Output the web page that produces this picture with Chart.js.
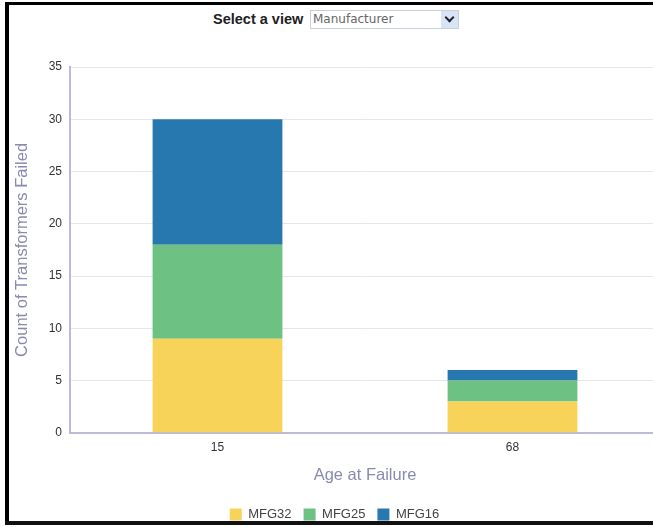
<!DOCTYPE html>
<html>
<head>
<meta charset="utf-8">
<script src="https://cdn.jsdelivr.net/npm/chart.js@4/dist/chart.umd.min.js"></script>
<style>
  html, body { margin:0; padding:0; width:653px; height:527px; overflow:hidden; background:#fff; font-family:"Liberation Sans", Arial, sans-serif; }
  #bl { position:absolute; left:5px; top:2px; width:4px; height:523px; background:#000; z-index:2; }
  #bt { position:absolute; left:5px; top:2px; width:648px; height:3px; background:#000; z-index:2; }
  #bb { position:absolute; left:5px; top:521px; width:648px; height:4px; background:#111; z-index:2; }
  #hdr { position:absolute; left:213px; top:10px; height:18px; font-size:14.5px; font-weight:bold; color:#222; line-height:18px; }
  #sel { position:absolute; left:310px; top:10px; width:147px; height:17px; border:1px solid #c8d0dc; background:#fff; }
  #sel span { position:absolute; left:2px; top:0; font-family:"DejaVu Sans", sans-serif; font-size:12px; line-height:17px; color:#666; }
  #arr { position:absolute; right:0; top:0; width:17px; height:17px; background:#d8e4f4; }
  #arr:after { content:""; position:absolute; left:5px; top:3px; width:5px; height:5px; border-right:2px solid #223; border-bottom:2px solid #223; transform:rotate(45deg); }
  #wrap { position:absolute; left:9px; top:40px; width:651px; height:491px; z-index:1; }
</style>
</head>
<body>
<div id="bl"></div><div id="bt"></div><div id="bb"></div>
<div id="hdr">Select a view</div>
<div id="sel"><span>Manufacturer</span><div id="arr"></div></div>
<div id="wrap"><canvas id="c" width="651" height="491"></canvas></div>
<script>
const categories = ["15", "68"];
const seriesNames = ["MFG32", "MFG25", "MFG16"];
const mfg32 = [9, 3];
const mfg25 = [9, 2];
const mfg16 = [12, 1];
const yTicks = [0, 5, 10, 15, 20, 25, 30, 35];
const colors = ["#f8d35a", "#6cc183", "#2878b0"];

const tickFont = { family: "Liberation Sans, Arial, sans-serif", size: 12 };
const titleFont = { family: "Liberation Sans, Arial, sans-serif", size: 16.5 };
new Chart(document.getElementById('c'), {
  type: 'bar',
  data: {
    labels: categories,
    datasets: [
      { label: seriesNames[0], data: mfg32, backgroundColor: colors[0] },
      { label: seriesNames[1], data: mfg25, backgroundColor: colors[1] },
      { label: seriesNames[2], data: mfg16, backgroundColor: colors[2] }
    ]
  },
  options: {
    responsive: false,
    animation: false,
    layout: { padding: { top: 27, right: 0, left: 0, bottom: 0 } },
    datasets: { bar: { categoryPercentage: 1.0, barPercentage: 0.44 } },
    scales: {
      x: {
        stacked: true,
        grid: { display: false, drawTicks: false, tickLength: 0 },
        border: { color: '#b9bbd9', width: 2 },
        ticks: { color: '#333', font: tickFont, padding: 8 },
        title: { display: true, text: 'Age at Failure', color: '#8a8ab0', font: titleFont, padding: { top: 2, bottom: 11 } }
      },
      y: {
        stacked: true,
        min: 0, max: 35,
        afterBuildTicks: (s) => { s.ticks = yTicks.map(v => ({ value: v })); },
        afterFit: (s) => { s.width = 61; },
        grid: { color: '#e6e6e6', drawTicks: false },
        border: { color: '#b9bbd9', width: 2 },
        ticks: { color: '#333', font: tickFont, padding: 8 },
        title: { display: true, text: 'Count of Transformers Failed', color: '#8a8ab0', font: titleFont, padding: { top: 4, bottom: 0 } }
      }
    },
    plugins: {
      legend: {
        position: 'bottom',
        labels: { boxWidth: 12, boxHeight: 12, padding: 12, color: '#444', font: { family: "Liberation Sans, Arial, sans-serif", size: 13 } }
      },
      tooltip: { enabled: false }
    }
  }
});
</script>
</body>
</html>
